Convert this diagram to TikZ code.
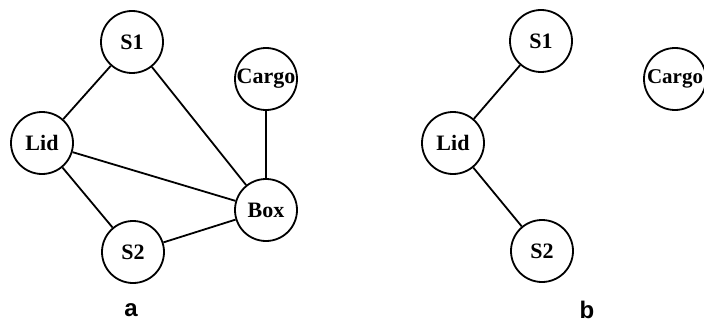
\documentclass[tikz,border=0pt]{standalone}
\usepackage{fontspec}
\setmainfont{Liberation Serif}
\newfontfamily\labfont{Liberation Sans}
\begin{document}
\begin{tikzpicture}[x=1pt,y=-1pt,
  obj/.style={circle,draw,line width=1.8pt,minimum size=62pt,inner sep=0pt,font=\fontsize{22}{24}\selectfont\bfseries},
  edge/.style={line width=1.8pt},
  sublabel/.style={font=\labfont\fontsize{24}{26}\selectfont\bfseries}]
\useasboundingbox (0,0) rectangle (704,329);
\clip (0,0) rectangle (704,329);
% (a)
\node[obj] (s1) at (132,42) {S1};
\node[obj] (lid) at (42,143) {Lid};
\node[obj] (cargo) at (266,79) {Cargo};
\node[obj] (box) at (266,210) {Box};
\node[obj] (s2) at (133,252) {S2};
\draw[edge] (s1) -- (lid);
\draw[edge] (s1) -- (box);
\draw[edge] (lid) -- (box);
\draw[edge] (lid) -- (s2);
\draw[edge] (s2) -- (box);
\draw[edge] (cargo) -- (box);
\node[sublabel] (la) at (131,310) {a};
% (b)
\node[obj] (bs1) at (541,41) {S1};
\node[obj] (blid) at (453,143) {Lid};
\node[obj] (bs2) at (542,251) {S2};
\node[obj,font=\fontsize{21}{24}\selectfont\bfseries] (bcargo) at (675,79) {Cargo};
\draw[edge] (bs1) -- (blid);
\draw[edge] (blid) -- (bs2);
\node[sublabel] (lb) at (587,310) {b};
\end{tikzpicture}
\end{document}
